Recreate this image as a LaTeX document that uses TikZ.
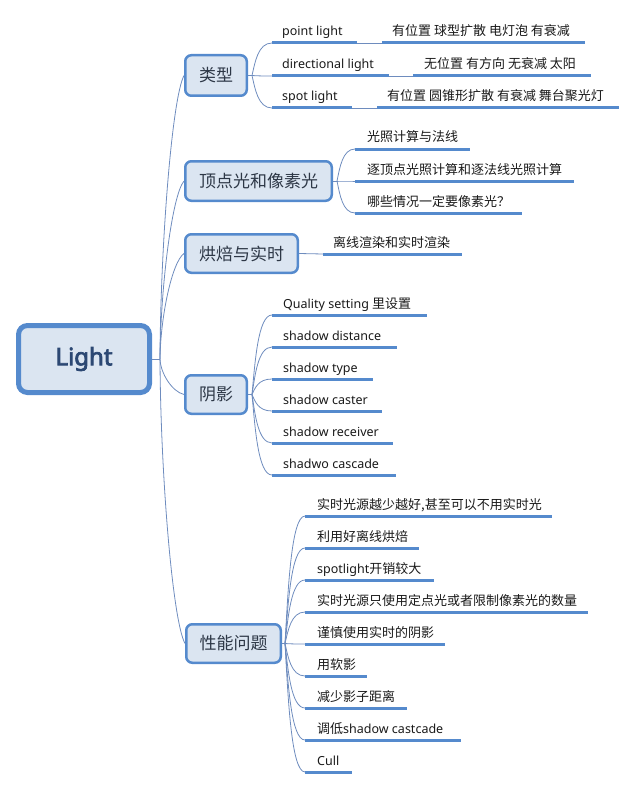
\documentclass[tikz,border=0pt]{standalone}
\usepackage{fontspec}
\setmainfont{Noto Sans}
\newfontfamily\cjk{Noto Sans CJK SC}
\newfontfamily\rootfont{Noto Sans}[AutoFakeBold=3]
\usetikzlibrary{calc}
\definecolor{conncol}{RGB}{110,140,190}
\definecolor{linecol}{RGB}{85,138,205}
\definecolor{boxfill}{RGB}{219,229,241}
\definecolor{boxdraw}{RGB}{85,138,205}
\definecolor{roottext}{RGB}{44,72,115}
\definecolor{topictext}{RGB}{45,55,70}
\definecolor{leaftext}{RGB}{25,25,25}
\newcommand\zh[1]{{\cjk\fontsize{13}{15}\selectfont #1}}
\tikzset{
  conn/.style={draw=conncol, line width=0.8pt},
  uline/.style={draw=linecol, line width=3pt},
  rootbox/.style={draw=boxdraw, fill=boxfill, line width=5pt, rounded corners=9pt,
    text=roottext, font=\rootfont\fontsize{24}{28}\selectfont\bfseries, inner sep=0pt},
  topic/.style={draw=boxdraw, fill=boxfill, line width=2.5pt, rounded corners=6pt,
    text=topictext, font=\cjk\fontsize{17}{20}\selectfont, inner sep=0pt},
  lbl/.style={anchor=base west, inner sep=0pt, text=leaftext, font=\fontsize{12.5}{15}\selectfont}
}
% curve from stub to child start
\newcommand\link[2]{\draw[conn] let \p1=(#1), \p2=(#2) in
  (#1) .. controls ({\x1+0.15*(\x2-\x1)},{\y1+0.4*(\y2-\y1)}) and ({\x1+0.3*(\x2-\x1)},\y2) .. (#2);}
\newcommand\rootlink[2]{\draw[conn] let \p1=(#1), \p2=(#2) in
  (#1) .. controls ({\x1+0.02*(\x2-\x1)},{\y1+0.4*(\y2-\y1)}) and ({\x1+0.5*(\x2-\x1)},{\y2-0.08*(\y2-\y1)}) .. (#2);}
% leaf: name, x0, x1, y, dx, text
\newcommand\leaf[6]{%
  \coordinate (#1) at (#2,#4);
  \coordinate (#1-e) at (#3,#4);
  \draw[uline] (#1) -- (#1-e);
  \node[lbl] (#1-t) at (#2+#5,#4-7) {#6};}
\begin{document}
\begin{tikzpicture}[x=1pt,y=-1pt]
\useasboundingbox (0,0) rectangle (637,789);

% root
\node[rootbox, minimum width=131pt, minimum height=67pt] (root) at (84,359) {Light};
\coordinate (rs) at (160,359);
\draw[conn] (root.east) -- (rs);

% topics
\node[topic, minimum width=61.5pt, minimum height=40.5pt] (t1) at (216,75.5) {类型};
\node[topic, minimum width=146.5pt, minimum height=39.5pt] (t2) at (258.5,181) {顶点光和像素光};
\node[topic, minimum width=112.5pt, minimum height=38.5pt] (t3) at (241.5,253.5) {烘焙与实时};
\node[topic, minimum width=61.5pt, minimum height=38.5pt] (t4) at (216,394.5) {阴影};
\node[topic, minimum width=94.5pt, minimum height=38.5pt] (t5) at (233.5,643.5) {性能问题};

\foreach \tp in {t1,t2,t3,t4,t5}{\rootlink{rs}{\tp.west}}

% 类型
\coordinate (t1s) at (252,75.5);
\draw[conn] (t1.east) -- (t1s);
\leaf{pl}{272}{357}{43}{10}{point light}
\leaf{dl}{272}{389}{76}{10}{directional light}
\leaf{sl}{272}{352}{108}{10}{spot light}
\leaf{pe}{382}{585}{43}{10}{\zh{有位置 球型扩散 电灯泡 有衰减}}
\leaf{de}{413}{591}{76}{11}{\zh{无位置 有方向 无衰减 太阳}}
\leaf{se}{377}{619}{108}{10}{\zh{有位置 圆锥形扩散 有衰减 舞台聚光灯}}
\foreach \lf in {pl,dl,sl}{\link{t1s}{\lf}}
\draw[conn] (pl-e) -- (pe);
\draw[conn] (dl-e) -- (de);
\draw[conn] (sl-e) -- (se);

% 顶点光和像素光
\coordinate (t2s) at (337,181);
\draw[conn] (t2.east) -- (t2s);
\leaf{v1}{355}{470}{149}{12}{\zh{光照计算与法线}}
\leaf{v2}{355}{574}{181}{12}{\zh{逐顶点光照计算和逐法线光照计算}}
\leaf{v3}{355}{522}{213}{12}{\zh{哪些情况一定要像素光？}}
\foreach \lf in {v1,v2,v3}{\link{t2s}{\lf}}

% 烘焙与实时
\leaf{b1}{323}{462}{254}{10}{\zh{离线渲染和实时渲染}}
\draw[conn] (t3.east) -- (b1);

% 阴影
\coordinate (t4s) at (252,394.5);
\draw[conn] (t4.east) -- (t4s);
\leaf{s1}{272}{427}{315}{11}{Quality setting \zh{里设置}}
\leaf{s2}{272}{397}{347}{11}{shadow distance}
\leaf{s3}{272}{373}{379}{11}{shadow type}
\leaf{s4}{272}{382}{411}{11}{shadow caster}
\leaf{s5}{272}{393}{443}{11}{shadow receiver}
\leaf{s6}{272}{396}{475}{11}{shadwo cascade}
\foreach \lf in {s1,s2,s3,s4,s5,s6}{\link{t4s}{\lf}}

% 性能问题
\coordinate (t5s) at (285,643.5);
\draw[conn] (t5.east) -- (t5s);
\leaf{p1}{305}{552}{516}{12}{\zh{实时光源越少越好,甚至可以不用实时光}}
\leaf{p2}{305}{419}{548}{12}{\zh{利用好离线烘焙}}
\leaf{p3}{305}{434}{580}{12}{spotlight\zh{开销较大}}
\leaf{p4}{305}{588}{612}{12}{\zh{实时光源只使用定点光或者限制像素光的数量}}
\leaf{p5}{305}{445}{644}{12}{\zh{谨慎使用实时的阴影}}
\leaf{p6}{305}{367}{676}{12}{\zh{用软影}}
\leaf{p7}{305}{407}{708}{12}{\zh{减少影子距离}}
\leaf{p8}{305}{461}{740}{12}{\zh{调低}shadow castcade}
\leaf{p9}{305}{352}{772}{12}{Cull}
\foreach \lf in {p1,p2,p3,p4,p5,p6,p7,p8,p9}{\link{t5s}{\lf}}
\end{tikzpicture}
\end{document}
